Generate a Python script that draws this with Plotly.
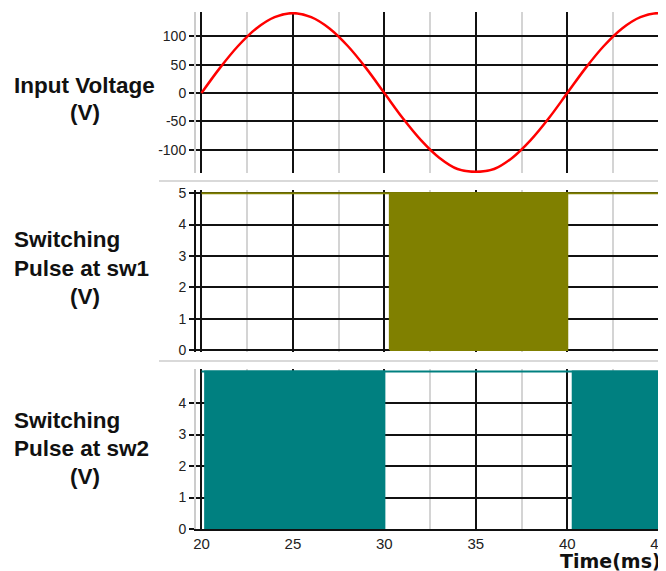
import plotly.graph_objects as go

# ---- data ----
time_ms = [20, 21, 22, 23, 24, 25, 26, 27, 28, 29, 30, 31, 32, 33, 34, 35,
           36, 37, 38, 39, 40, 41, 42, 43, 44, 45, 46]
input_voltage = [0, 44, 83, 114, 134, 141, 134, 114, 83, 44, 0, -44, -83, -114,
                 -134, -139, -134, -114, -83, -44, 0, 44, 83, 114, 134, 141, 134]

pulse_high = 5
pulse_low = 0
t_start, t_end = 20, 46
sw1_pwm_windows = [(30.3, 40.0)]          # densely switching region (appears solid)
sw2_pwm_windows = [(20.2, 30.0), (40.3, 46.0)]

v_ticks = [-100, -50, 0, 50, 100]
v_tick_text = ["-100", "-50", "0", "50", "100"]
sw1_ticks = [0, 1, 2, 3, 4, 5]
sw2_ticks = [0, 1, 2, 3, 4]
x_ticks = [20, 25, 30, 35, 40, 45]

RED = "#ff0000"
OLIVE = "#808000"
TEAL = "#008080"
FONT = "Liberation Sans, Arial, sans-serif"

fig = go.Figure()

# Panel 1: input voltage
fig.add_trace(go.Scatter(x=time_ms, y=input_voltage, mode="lines",
                         line=dict(color=RED, width=2.5, shape="spline"),
                         xaxis="x", yaxis="y", showlegend=False))

def add_switch(windows, color, xa, ya):
    # steady high level
    fig.add_trace(go.Scatter(x=[t_start, t_end], y=[pulse_high, pulse_high], mode="lines",
                             line=dict(color=color, width=2),
                             xaxis=xa, yaxis=ya, showlegend=False))
    for a, b in windows:
        fig.add_trace(go.Scatter(x=[a, a, b, b, a],
                                 y=[pulse_low, pulse_high, pulse_high, pulse_low, pulse_low],
                                 mode="lines", fill="toself", fillcolor=color,
                                 line=dict(color=color, width=2),
                                 xaxis=xa, yaxis=ya, showlegend=False))

add_switch(sw1_pwm_windows, OLIVE, "x2", "y2")
add_switch(sw2_pwm_windows, TEAL, "x3", "y3")

# page has an 8px body margin: figure is placed at (8, 8) in the window
H = 517.0
def py(px):
    return (529 - px) / H

def pxx(px):
    return (px - 196) / 470.0

xcommon = dict(range=[19.7, 45.4], tickvals=x_ticks, showgrid=True, gridcolor="#111111",
               gridwidth=1.5, zeroline=False, ticks="", ticklabeloverflow="allow",
               minor=dict(dtick=2.5, tick0=20, showgrid=True, gridcolor="#d4d4d4", gridwidth=1.5),
               tickfont=dict(family=FONT, size=15, color="#222222"))
ycommon = dict(showgrid=True, gridcolor="#111111", gridwidth=1.5, zeroline=False,
               ticks="outside", ticklen=5, tickcolor="#111111", tickwidth=1.5,
               showline=True, linecolor="#cccccc", linewidth=2,
               tickfont=dict(family=FONT, size=14, color="#222222"))

fig.update_layout(
    width=658, height=563,
    margin=dict(l=188, r=0, t=4, b=42),
    paper_bgcolor="white", plot_bgcolor="white",
    xaxis=dict(xcommon, anchor="y", showticklabels=False),
    xaxis2=dict(xcommon, anchor="y2", matches="x", showticklabels=False),
    xaxis3=dict(xcommon, anchor="y3", matches="x", showticklabels=True,
                showline=True, linecolor="#111111", linewidth=1.5),
    yaxis=dict(ycommon, domain=[py(173), 1.0], range=[-141, 143], tickvals=v_ticks,
               ticktext=v_tick_text),
    yaxis2=dict(ycommon, domain=[py(352), py(190)], range=[-0.064, 5.1], tickvals=sw1_ticks,
                linecolor="#111111"),
    yaxis3=dict(ycommon, domain=[0, py(369)], range=[0, 5.08], tickvals=sw2_ticks),
)

# separators
for yp in (181, 361):
    fig.add_shape(type="line", xref="paper", yref="paper", x0=pxx(159), x1=1.0,
                  y0=py(yp), y1=py(yp), line=dict(color="#cccccc", width=1.5))

labels = [
    ("Input Voltage", 12, 85, "left"),
    ("(V)", 85, 112, "center"),
    ("Switching", 12, 240, "left"),
    ("Pulse at sw1", 12, 268, "left"),
    ("(V)", 85, 296, "center"),
    ("Switching", 12, 420, "left"),
    ("Pulse at sw2", 12, 448, "left"),
    ("(V)", 85, 476, "center"),
]
for txt, xp, yp, anc in labels:
    fig.add_annotation(text="<b>%s</b>" % txt, xref="paper", yref="paper",
                       x=pxx(xp), y=py(yp), xanchor=anc, yanchor="middle",
                       showarrow=False, font=dict(family=FONT, size=22.5, color="#111111"))

fig.add_annotation(text="<b>Time(ms)</b>", xref="paper", yref="paper",
                   x=pxx(663), y=py(561), xanchor="right", yanchor="middle",
                   showarrow=False, font=dict(family="DejaVu Sans", size=19, color="#111111"))

fig.write_html("out.html")
